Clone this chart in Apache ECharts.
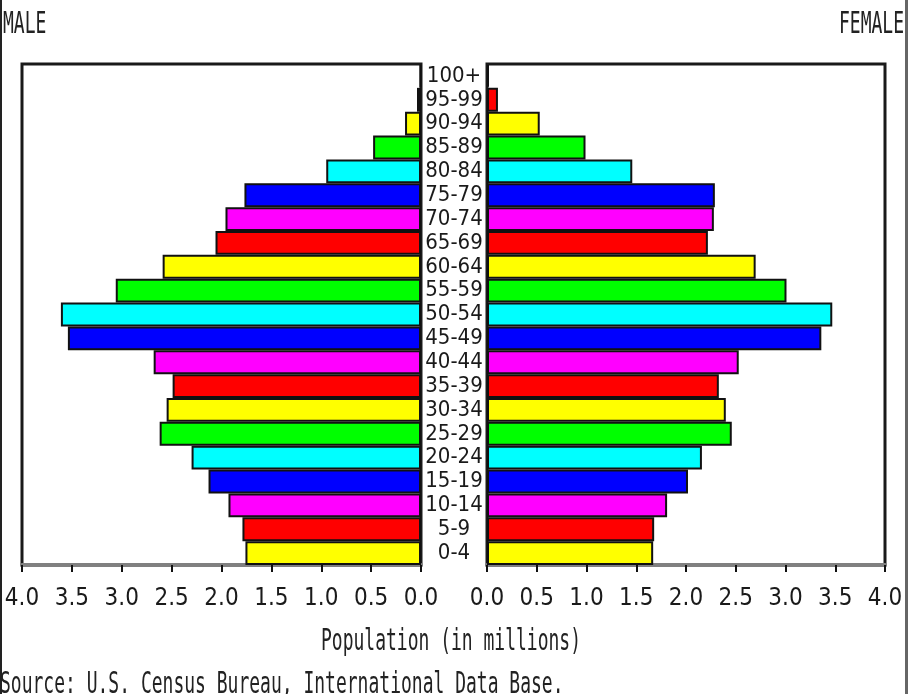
<!DOCTYPE html>
<html>
<head>
<meta charset="utf-8">
<script src="https://cdn.jsdelivr.net/npm/echarts@6/dist/echarts.min.js"></script>
<style>
html,body{margin:0;padding:0;background:#fff;}
#chart{width:910px;height:694px;}
</style>
</head>
<body>
<div id="chart"></div>
<script>
var ageGroups = ['0-4','5-9','10-14','15-19','20-24','25-29','30-34','35-39','40-44','45-49','50-54','55-59','60-64','65-69','70-74','75-79','80-84','85-89','90-94','95-99','100+'];
var maleValues = [1.76,1.79,1.93,2.13,2.30,2.62,2.55,2.49,2.68,3.54,3.61,3.06,2.59,2.06,1.96,1.77,0.95,0.48,0.16,0.04,0.01];
var femaleValues = [1.67,1.68,1.81,2.02,2.16,2.46,2.40,2.33,2.53,3.36,3.47,3.01,2.70,2.22,2.28,2.29,1.46,0.99,0.53,0.11,0.02];
var tickLabels = ['0.0','0.5','1.0','1.5','2.0','2.5','3.0','3.5','4.0'];
var titleMale = 'MALE';
var titleFemale = 'FEMALE';
var axisTitle = 'Population (in millions)';
var sourceText = 'Source: U.S. Census Bureau, International Data Base.';

var palette = ['#ffff00','#ff0000','#ff00ff','#0000ff','#00ffff','#00ff00'];
var narrowFont = "'Liberation Sans Narrow','DejaVu Sans Condensed','DejaVu Sans Mono',monospace";
var monoFont = "'DejaVu Sans Mono','Liberation Mono',monospace";

function tickFmt(v){ var i = Math.round(v/0.5); return tickLabels[i] !== undefined ? tickLabels[i] : v.toFixed(1); }

function makeX(gridIndex, inverse){
  return {
    type:'value', gridIndex:gridIndex, min:0, max:4, interval:0.5, inverse:inverse,
    splitLine:{show:false},
    axisLine:{show:true, onZero:false, lineStyle:{color:'#808080', width:4}},
    axisTick:{show:true, length:7, lineStyle:{color:'#111', width:2}},
    axisLabel:{margin:22, color:'#1a1a1a', fontFamily:narrowFont, fontSize:24, formatter:tickFmt}
  };
}

function barSeries(data, xi, yi){
  return {
    type:'bar', xAxisIndex:xi, yAxisIndex:yi, data:data,
    barCategoryGap:'0%', animation:false,
    itemStyle:{
      borderColor:'#111', borderWidth:2,
      color:function(p){ return palette[p.dataIndex % palette.length]; }
    }
  };
}

var chart = echarts.init(document.getElementById('chart'), null, {renderer:'canvas'});
chart.setOption({
  backgroundColor:'#ffffff',
  animation:false,
  grid:[
    {left:22, right:489, top:64, bottom:129, show:true, borderColor:'#1a1a1a', borderWidth:3, backgroundColor:'#fff'},
    {left:487, right:25, top:64, bottom:129, show:true, borderColor:'#1a1a1a', borderWidth:3, backgroundColor:'#fff'}
  ],
  xAxis:[ makeX(0, true), makeX(1, false) ],
  yAxis:[
    {type:'category', gridIndex:0, data:ageGroups, axisLine:{show:false}, axisTick:{show:false}, axisLabel:{show:false}},
    {type:'category', gridIndex:1, data:ageGroups, position:'left', axisLine:{show:false}, axisTick:{show:false},
     axisLabel:{show:true, interval:0, align:'center', margin:33, color:'#1a1a1a', fontFamily:narrowFont, fontSize:22}}
  ],
  series:[ barSeries(maleValues,0,0), barSeries(femaleValues,1,1) ],
  graphic:[
    {type:'line', shape:{x1:1,y1:0,x2:1,y2:694}, style:{stroke:'#222', lineWidth:2}, silent:true},
    {type:'line', shape:{x1:906.5,y1:0,x2:906.5,y2:694}, style:{stroke:'#666', lineWidth:3}, silent:true},
    {type:'text', x:3, y:10, scaleY:1.65, style:{text:titleMale, font:'18px '+monoFont, fill:'#222', textAlign:'left', textVerticalAlign:'top'}},
    {type:'text', x:904, y:10, scaleY:1.65, style:{text:titleFemale, font:'18px '+monoFont, fill:'#222', textAlign:'right', textVerticalAlign:'top'}},
    {type:'text', x:451, y:627, scaleY:1.65, style:{text:axisTitle, font:'18px '+monoFont, fill:'#222', textAlign:'center', textVerticalAlign:'top'}},
    {type:'text', x:0, y:670, scaleY:1.65, style:{text:sourceText, font:'18px '+monoFont, fill:'#222', textAlign:'left', textVerticalAlign:'top'}}
  ]
});
</script>
</body>
</html>
